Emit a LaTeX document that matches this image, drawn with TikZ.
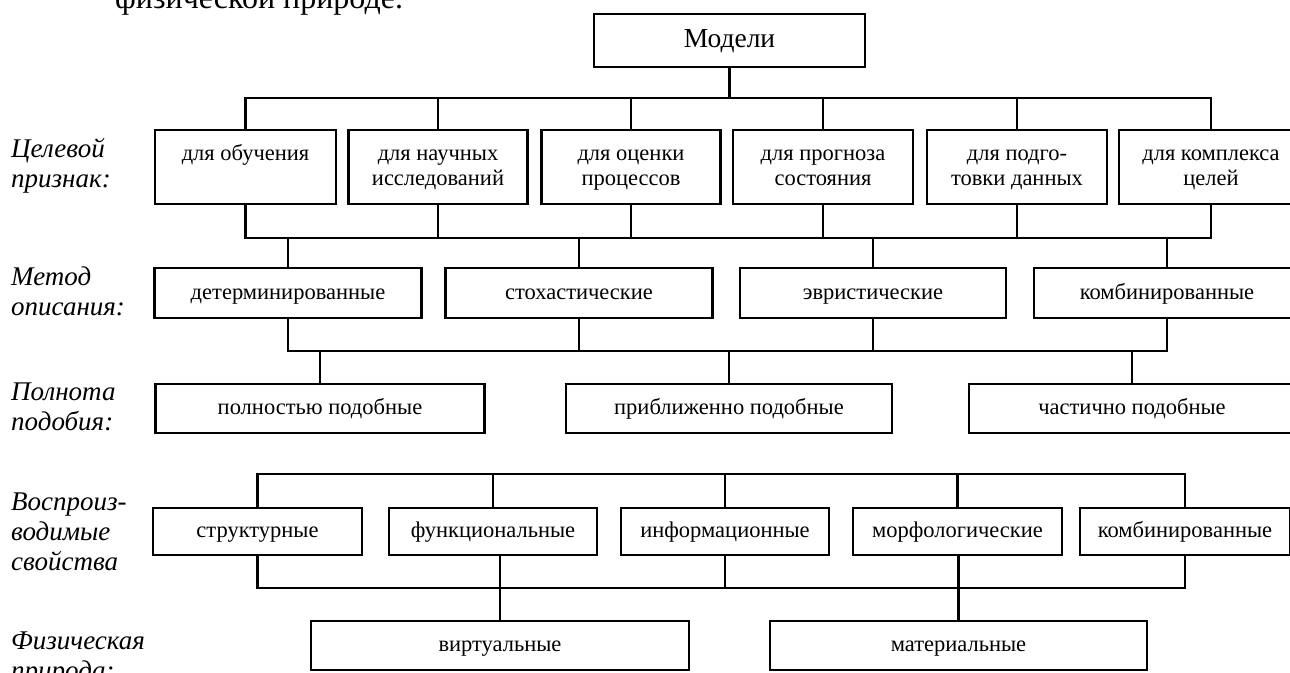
\documentclass[tikz,border=0pt]{standalone}
\usepackage{fontspec}
\setmainfont{Liberation Serif}
% fixed line height for the texts inside the boxes
\newcommand{\boxstrut}{\rule[-6pt]{0pt}{24pt}}
\begin{document}
\begin{tikzpicture}[x=1pt,y=-1pt,
  box/.style={draw,line width=2.5pt,inner sep=0pt,align=center,
    text height=18pt,text depth=6pt,
    font=\fontsize{22.5}{25}\selectfont},
  twoline/.style={box,text height=,text depth=,minimum width=#1,minimum height=74pt},
  link/.style={line width=2.5pt},
  crit/.style={anchor=base west,align=left,inner sep=0pt,
    font=\fontsize{27}{30}\selectfont\itshape}]
\clip (0,0) rectangle (1290,672);

% line of running text above the chart
\node[anchor=base west,inner sep=0pt,font=\fontsize{32}{32}\selectfont] (intro) at (115,8.5) {физической природе.};

% criteria on the left (anchored at the baseline of the last line)
\node[crit] (c1) at (11,187) {Целевой\\признак:};
\node[crit] (c2) at (11,315) {Метод\\описания:};
\node[crit] (c3) at (11,430) {Полнота\\подобия:};
\node[crit] (c4) at (11,570) {Воспроиз-\\водимые\\свойства};
\node[crit] (c5) at (11,679) {Физическая\\природа:};

% root
\node[box,minimum width=271pt,minimum height=53pt,font=\fontsize{27.5}{30}\selectfont,
  text height=20pt,text depth=7pt] (m) at (729.5,40.5) {Модели};

% purpose
\node[twoline=181pt] (t1) at (245.5,167) {\boxstrut для обучения\\\boxstrut};
\node[twoline=179pt] (t2) at (438,167) {\boxstrut для научных\\\boxstrut исследований};
\node[twoline=179pt] (t3) at (631,167) {\boxstrut для оценки\\\boxstrut процессов};
\node[twoline=180pt] (t4) at (823,167) {\boxstrut для прогноза\\\boxstrut состояния};
\node[twoline=180pt] (t5) at (1017,167) {\boxstrut для подго-\\\boxstrut товки данных};
\node[twoline=184pt] (t6) at (1211,167) {\boxstrut для комплекса\\\boxstrut целей};

% description method
\node[box,minimum width=267pt,minimum height=50pt] (d1) at (288,293) {детерминированные};
\node[box,minimum width=267pt,minimum height=50pt] (d2) at (579,293) {стохастические};
\node[box,minimum width=266pt,minimum height=50pt] (d3) at (873,293) {эвристические};
\node[box,minimum width=266pt,minimum height=50pt] (d4) at (1167,293) {комбинированные};

% completeness of similarity
\node[box,minimum width=329pt,minimum height=49pt] (p1) at (320,408.5) {полностью подобные};
\node[box,minimum width=326pt,minimum height=49pt] (p2) at (729,408.5) {приближенно подобные};
\node[box,minimum width=326pt,minimum height=49pt] (p3) at (1132,408.5) {частично подобные};

% reproduced properties
\node[box,minimum width=209pt,minimum height=47pt] (r1) at (257.5,531.5) {структурные};
\node[box,minimum width=208pt,minimum height=47pt] (r2) at (493,531.5) {функциональные};
\node[box,minimum width=208pt,minimum height=47pt] (r3) at (725,531.5) {информационные};
\node[box,minimum width=209pt,minimum height=47pt] (r4) at (957.5,531.5) {морфологические};
\node[box,minimum width=210pt,minimum height=47pt] (r5) at (1185,531.5) {комбинированные};

% physical nature
\node[box,minimum width=378pt,minimum height=49pt] (f1) at (500,645.5) {виртуальные};
\node[box,minimum width=377pt,minimum height=49pt] (f2) at (958.5,645.5) {материальные};

% bus levels
\coordinate (b1) at (0,98);
\coordinate (b2) at (0,238);
\coordinate (b3) at (0,351);
\coordinate (b4) at (0,474);
\coordinate (b5) at (0,588);

% root to purpose
\draw[link] (m.south) -- (m.south |- b1);
\draw[link] (t1.north) -- (t1.north |- b1) -- (t6.north |- b1) -- (t6.north);
\foreach \n in {t2,t3,t4,t5} \draw[link] (\n.north) -- (\n.north |- b1);

% purpose to description method
\draw[link] (t1.south) -- (t1.south |- b2) -- (t6.south |- b2) -- (t6.south);
\foreach \n in {t2,t3,t4,t5} \draw[link] (\n.south) -- (\n.south |- b2);
\foreach \n in {d1,d2,d3,d4} \draw[link] (\n.north) -- (\n.north |- b2);

% description method to similarity
\draw[link] (d1.south) -- (d1.south |- b3) -- (d4.south |- b3) -- (d4.south);
\foreach \n in {d2,d3} \draw[link] (\n.south) -- (\n.south |- b3);
\foreach \n in {p1,p2,p3} \draw[link] (\n.north) -- (\n.north |- b3);

% reproduced properties
\draw[link] (r1.north) -- (r1.north |- b4) -- (r5.north |- b4) -- (r5.north);
\foreach \n in {r2,r3,r4} \draw[link] (\n.north) -- (\n.north |- b4);
\draw[link] (r1.south) -- (r1.south |- b5) -- (r5.south |- b5) -- (r5.south);
\draw[link] (r3.south) -- (r3.south |- b5);
\draw[link] (f1.north) -- (f1.north |- r2.south);
\draw[link] (f2.north) -- (f2.north |- r4.south);
\end{tikzpicture}
\end{document}
